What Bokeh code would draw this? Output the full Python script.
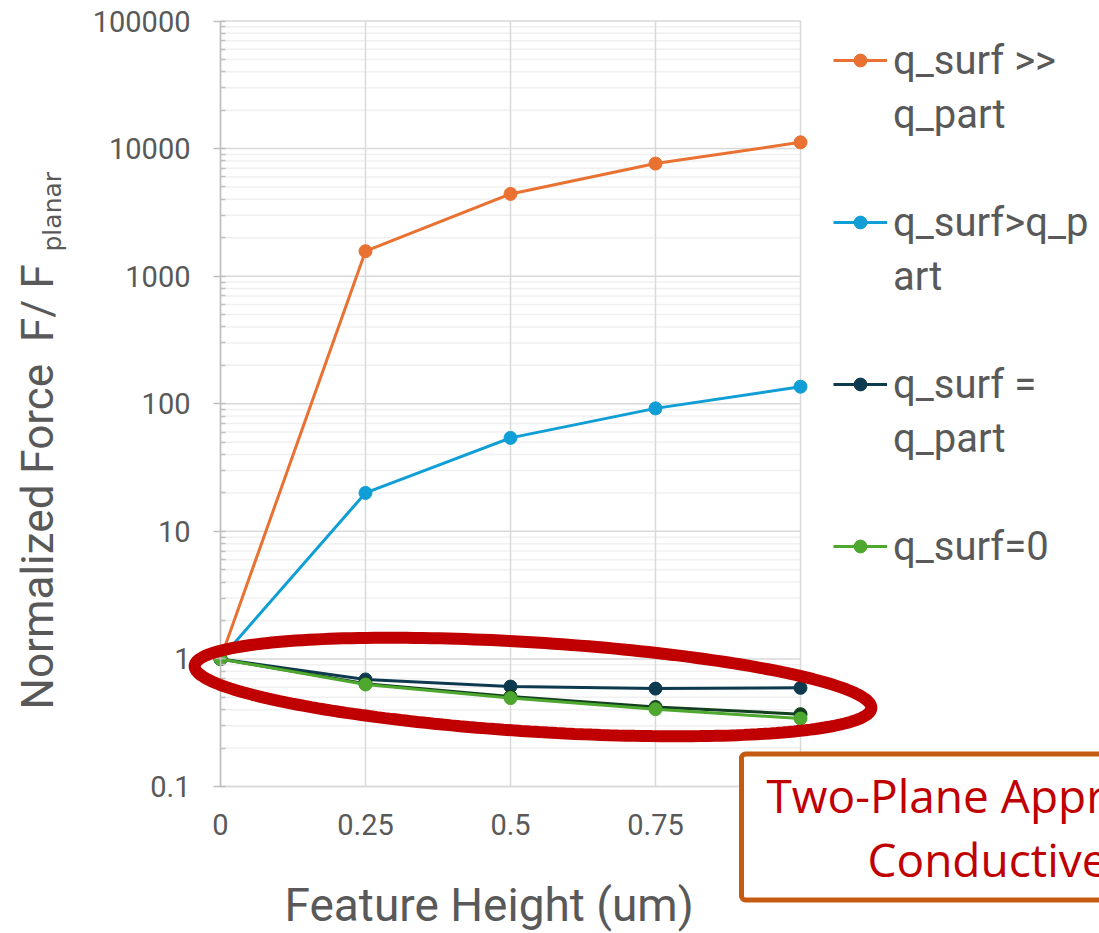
import math
import numpy as np
from bokeh.plotting import figure
from bokeh.models import FixedTicker, Label, Legend, LegendItem, PolyAnnotation, Range1d
from bokeh.embed import file_html
from bokeh.resources import INLINE

# ---------------- data ----------------
feature_height = [0, 0.25, 0.5, 0.75, 1]
q_surf_much_greater = [1, 1570, 4410, 7630, 11200]
q_surf_greater = [1, 20, 54, 92, 136]
q_surf_equal = [1, 0.69, 0.607, 0.585, 0.593]
q_surf_equal_b = [1, 0.64, 0.507, 0.42, 0.369]
q_surf_zero = [1, 0.63, 0.493, 0.404, 0.341]

x_ticks = [0, 0.25, 0.5, 0.75, 1]
x_tick_labels = ["0", "0.25", "0.5", "0.75", "1"]
y_ticks = [0.1, 1, 10, 100, 1000, 10000, 100000]
y_tick_labels = ["0.1", "1", "10", "100", "1000", "10000", "100000"]

ORANGE = "#E97132"
BLUE = "#0F9ED5"
NAVY = "#0E3A50"
DKGREEN = "#123F1F"
GREEN = "#4EA72E"
GRAY_TXT = "#595959"

# ---------------- layout (pixels of the canvas) ----------------
W, H = 1099, 933
PL, PR, PT, PB = 220.0, 800.0, 20.5, 786.0   # plot-area edges
X0, X1 = 0.0, 1.0
LY0, LY1 = -1.0, 5.0                          # log10 of y limits
xpp = (X1 - X0) / (PR - PL)
ypp = (LY1 - LY0) / (PB - PT)

x_range = Range1d(X0 - PL * xpp, X1 + (W - PR) * xpp)
y_range = Range1d(10 ** (LY0 - (H - PB) * ypp), 10 ** (LY1 + PT * ypp))

p = figure(width=W, height=H, y_axis_type="log", x_range=x_range, y_range=y_range,
           output_backend="svg", toolbar_location=None,
           min_border_left=0, min_border_right=0, min_border_top=0, min_border_bottom=0)
p.outline_line_color = None
p.background_fill_color = "white"
p.border_fill_color = "white"
p.grid.visible = False

# ---------------- grid lines (drawn from the tick arrays) ----------------
minor = [m * 10.0 ** e for e in range(-1, 5) for m in range(2, 10)]
p.segment(x0=[X0] * len(minor), y0=minor, x1=[X1] * len(minor), y1=minor,
          line_color="#F0F0F0", line_width=1.5)
p.segment(x0=[X0] * len(y_ticks), y0=y_ticks, x1=[X1] * len(y_ticks), y1=y_ticks,
          line_color="#D9D9D9", line_width=1.5)
p.segment(x0=x_ticks, y0=[y_ticks[0]] * len(x_ticks), x1=x_ticks, y1=[y_ticks[-1]] * len(x_ticks),
          line_color="#D9D9D9", line_width=1.5)

# ---------------- axes ----------------
xa = p.xaxis[0]
xa.fixed_location = y_ticks[0]
xa.bounds = (X0, X1)
xa.ticker = FixedTicker(ticks=x_ticks)
xa.major_label_overrides = dict(zip(x_ticks, x_tick_labels))
xa.axis_line_color = "#D9D9D9"
xa.axis_line_width = 1.5
xa.major_tick_line_color = None
xa.minor_tick_line_color = None
xa.major_label_standoff = 21
xa.major_label_text_font = "Roboto"
xa.major_label_text_font_size = "29px"
xa.major_label_text_color = GRAY_TXT

ya = p.yaxis[0]
ya.fixed_location = X0
ya.bounds = (y_ticks[0], y_ticks[-1])
ya.ticker = FixedTicker(ticks=y_ticks, minor_ticks=minor)
ya.major_label_overrides = dict(zip(y_ticks, y_tick_labels))
ya.axis_line_color = "#BFBFBF"
ya.axis_line_width = 1.5
ya.major_tick_line_color = "#BFBFBF"
ya.major_tick_line_width = 1.5
ya.major_tick_out = 7
ya.major_tick_in = 5
ya.minor_tick_line_color = "#BFBFBF"
ya.minor_tick_line_width = 1.5
ya.minor_tick_in = 5
ya.minor_tick_out = 0
ya.major_label_standoff = 23
ya.major_label_text_font = "Roboto"
ya.major_label_text_font_size = "29px"
ya.major_label_text_color = GRAY_TXT

# ---------------- series ----------------
def series(vals, color):
    ln = p.line(feature_height, vals, line_width=3, line_color=color)
    sc = p.scatter(feature_height, vals, size=13, fill_color=color, line_color=color)
    return [ln, sc]

r_orange = series(q_surf_much_greater, ORANGE)
r_blue = series(q_surf_greater, BLUE)
r_navy = series(q_surf_equal, NAVY)
r_dk = series(q_surf_equal_b, DKGREEN)
r_green = series(q_surf_zero, GREEN)

dummy = p.line(x=[], y=[], line_alpha=0)

items = [
    LegendItem(label="q_surf >>", renderers=r_orange),
    LegendItem(label="q_part", renderers=[dummy]),
    LegendItem(label=" ", renderers=[dummy]),
    LegendItem(label="q_surf>q_p", renderers=r_blue),
    LegendItem(label="art", renderers=[dummy]),
    LegendItem(label=" ", renderers=[dummy]),
    LegendItem(label="q_surf =", renderers=r_navy),
    LegendItem(label="q_part", renderers=[dummy]),
    LegendItem(label=" ", renderers=[dummy]),
    LegendItem(label="q_surf=0", renderers=r_green),
]
ROW = 54
LEG_TOP = 33
legend = Legend(items=items, location=(833, H - LEG_TOP - ROW * len(items)),
                padding=0, margin=0, spacing=0,
                label_height=ROW, glyph_height=32, glyph_width=54, label_standoff=6,
                border_line_color=None, background_fill_alpha=0,
                label_text_font="Roboto", label_text_font_size="40px",
                label_text_color=GRAY_TXT)
p.add_layout(legend, "center")

# ---------------- red ellipse highlight ----------------
def px_to_data(sx, sy):
    xd = X0 + (sx - PL) * xpp
    yd = 10 ** (LY0 + (PB - sy) * ypp)
    return xd, yd

cx, cy, a, b, phi = 532.5, 686.5, 339.0, 44.6, 0.0623
t = np.linspace(0, 2 * np.pi, 241)
sxs = cx + a * np.cos(t) * np.cos(phi) - b * np.sin(t) * np.sin(phi)
sys_ = cy + a * np.cos(t) * np.sin(phi) + b * np.sin(t) * np.cos(phi)
exs, eys = px_to_data(sxs, sys_)
ellipse = PolyAnnotation(xs=list(exs), ys=list(eys), xs_units="data", ys_units="data",
                         line_color="#C00000", line_width=12, line_alpha=1,
                         fill_alpha=0)
p.add_layout(ellipse)

# ---------------- axis titles (anchored at the middle of the text box) ----------------
p.add_layout(Label(x=37.5, y=H - 709, x_units="screen", y_units="screen", angle=math.pi / 2,
                   text="Normalized Force \u00a0F/ F", text_font="Roboto", text_font_size="44px",
                   text_color=GRAY_TXT, text_align="left", text_baseline="middle"))
p.add_layout(Label(x=51.5, y=H - 251, x_units="screen", y_units="screen", angle=math.pi / 2,
                   text="planar", text_font="DejaVu Sans", text_font_size="25px",
                   text_color=GRAY_TXT, text_align="left", text_baseline="middle"))
p.add_layout(Label(x=284, y=H - 904, x_units="screen", y_units="screen",
                   text="Feature Height (um)", text_font="Roboto", text_font_size="46px",
                   text_color=GRAY_TXT, text_align="left", text_baseline="middle"))

# ---------------- callout box ----------------
p.add_layout(Label(x=741, y=H - 826.5, x_units="screen", y_units="screen",
                   text="Two-Plane Approach", text_font="Open Sans", text_font_size="46px",
                   text_color="#C00000", text_align="left", text_baseline="middle",
                   border_line_color="#C55A11", border_line_width=5, border_radius=4,
                   background_fill_color="white",
                   padding=dict(left=25, right=300, top=10, bottom=74)))
p.add_layout(Label(x=867, y=H - 858, x_units="screen", y_units="screen",
                   text="Conductive", text_font="Open Sans", text_font_size="46px",
                   text_color="#C00000", text_align="left", text_baseline="middle"))

open("out.html", "w").write(file_html(p, INLINE))
